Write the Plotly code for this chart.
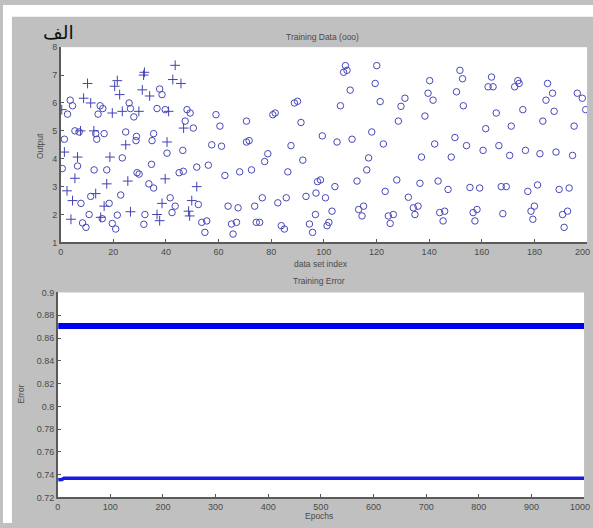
import plotly.graph_objects as go

# ---- Top panel: training data (circles) ----
circle_x = [3.6, 4.5, 2.6, 5.4, 7.0, 1.4, 0.6, 6.4, 12.7, 17.5, 23.4, 29.0, 29.8, 34.5, 40.4, 46.4, 45.0, 46.6,
            15.0, 16.0, 14.2, 13.3, 16.5, 13.7, 26.0, 26.5, 27.8, 24.7, 28.8, 28.6, 35.3, 34.7,
            36.6, 39.7, 37.6, 38.5, 48.0, 47.3, 49.2,
            11.4, 7.7, 22.8, 18.4, 33.5, 35.3, 41.6, 43.5, 42.3,
            10.8, 8.3, 9.6, 21.5, 19.6, 20.9, 32.0, 31.6, 15.8,
            50.4, 59.0, 60.5, 70.6, 80.6, 81.5, 88.8, 90.0, 91.3,
            57.4, 61.1, 70.6, 71.6, 78.7, 77.5, 87.5, 92.0,
            51.7, 56.1, 62.4, 68.0, 72.5, 86.3, 97.6,
            52.3, 63.6, 67.4, 73.7, 76.6, 82.5, 85.7, 93.2, 97.0,
            53.6, 55.5, 54.8, 64.9, 66.8, 65.5, 74.3, 75.6, 83.8, 85.0, 94.5, 95.7, 96.8,
            108.2, 108.8, 107.5, 120.1, 119.5, 110.0, 106.3, 121.4, 130.8, 129.3, 128.3, 138.4, 140.2, 139.6, 141.5,
            99.4, 105.0, 110.7, 118.2, 122.6, 142.1, 117.0, 116.3, 137.1, 148.4,
            98.7, 104.2, 112.6, 123.3, 127.7, 136.5, 143.4, 147.2,
            100.6, 103.1, 113.2, 115.1, 114.5, 124.5, 126.4, 125.2, 132.1, 134.0, 135.8, 134.6, 144.0, 145.9, 145.3,
            101.9, 101.2,
            151.7, 152.7, 150.4, 163.7, 162.4, 164.3, 173.7, 172.5, 174.2, 185.0, 186.9, 184.4, 196.3, 198.2, 199.5,
            153.0, 165.5, 175.6, 187.5, 183.2, 195.1, 161.5, 171.2,
            149.8, 154.2, 160.5, 166.5, 170.6, 176.6, 182.1, 188.2, 194.5,
            155.5, 159.2, 167.4, 169.3, 177.5, 181.2, 189.4, 193.2,
            156.7, 158.2, 157.4, 168.0, 178.7, 180.0, 179.4, 190.7, 192.6, 191.3]
circle_y = [6.1, 5.9, 5.6, 5.0, 4.96, 4.7, 3.65, 3.74, 3.6, 3.6, 4.03, 3.5, 3.45, 3.8, 4.2, 4.3, 3.5, 3.55,
            5.9, 5.8, 5.6, 4.9, 4.9, 4.7, 6.0, 5.8, 5.5, 4.96, 4.8, 4.65, 4.9, 4.65,
            5.8, 5.76, 6.5, 6.3, 5.76, 5.35, 5.64,
            2.65, 2.4, 2.7, 2.4, 3.1, 2.95, 2.6, 2.3, 2.07,
            2.0, 1.7, 1.54, 1.98, 1.68, 1.48, 2.0, 1.65, 1.85,
            5.1, 5.58, 5.17, 5.35, 5.58, 5.64, 6.0, 6.06, 5.3,
            4.5, 4.45, 4.6, 4.65, 4.18, 3.9, 4.47, 3.95,
            3.7, 3.77, 3.4, 3.53, 3.6, 3.53, 3.18,
            2.36, 2.3, 2.24, 2.3, 2.6, 2.42, 2.6, 2.65, 2.77,
            1.72, 1.77, 1.36, 1.66, 1.72, 1.3, 1.72, 1.72, 1.6, 1.48, 1.66, 1.36, 2.0,
            7.34, 7.17, 7.1, 7.34, 6.7, 6.46, 5.9, 6.05, 6.17, 5.88, 5.35, 5.53, 6.8, 6.35, 6.1,
            4.82, 4.6, 4.7, 4.96, 4.53, 4.53, 4.03, 3.6, 4.06, 4.06,
            3.24, 3.0, 3.2, 2.83, 3.24, 3.12, 3.2, 2.9,
            2.6, 2.12, 2.18, 2.3, 1.95, 1.95, 2.0, 1.68, 2.62, 2.24, 2.3, 2.0, 2.07, 2.12, 1.77,
            1.72, 1.6,
            7.17, 6.87, 6.4, 6.93, 6.58, 6.58, 6.8, 6.58, 6.7, 6.7, 6.35, 6.1, 6.35, 6.17, 5.76,
            5.9, 5.64, 5.76, 5.7, 5.35, 5.17, 5.08, 5.17,
            4.76, 4.47, 4.3, 4.47, 4.12, 4.3, 4.18, 4.24, 4.12,
            2.97, 2.95, 3.0, 3.0, 2.83, 3.06, 2.9, 2.95,
            2.07, 2.18, 1.77, 2.03, 2.12, 2.3, 1.83, 2.0, 2.12, 1.54]

# ---- Top panel: plus markers ----
plus_x = [10.2, 21.5, 20.5, 31.8, 31.5, 43.5, 42.6, 45.7,
          8.7, 11.4, 22.4, 31.0, 33.8,
          19.6, 23.4, 29.7, 0.4, 41.0, 46.7, 7.5, 12.6,
          24.7, 40.4, 1.4, 6.4, 18.7,
          5.4, 17.5, 25.5, 39.7, 2.4, 4.5, 13.3, 16.5, 38.5,
          3.9, 15.2, 26.5, 36.6, 37.6,
          51.7, 49.8, 49.0, 48.6]
plus_y = [6.7, 6.8, 6.6, 7.1, 7.0, 7.35, 6.84, 6.7,
          6.17, 6.0, 6.3, 6.47, 6.25,
          5.64, 5.7, 5.7, 5.76, 5.7, 5.1, 5.0, 5.0,
          4.5, 4.6, 4.24, 4.06, 4.06,
          3.3, 3.1, 3.2, 3.28, 2.85, 2.5, 2.75, 2.3, 2.4,
          1.83, 1.9, 2.1, 2.0, 1.78,
          3.0, 2.5, 1.95, 2.12]

# ---- Bottom panel: error curves ----
upper_epochs = [1, 1000]
upper_error = [0.8705, 0.8705]
lower_epochs = [1, 8, 12, 1000]
lower_error = [0.7355, 0.7358, 0.7370, 0.7370]

top_xticks = [0, 20, 40, 60, 80, 100, 120, 140, 160, 180, 200]
top_yticks = [1, 2, 3, 4, 5, 6, 7, 8]
bot_xticks = [0, 100, 200, 300, 400, 500, 600, 700, 800, 900, 1000]
bot_yticks = [0.72, 0.74, 0.76, 0.78, 0.8, 0.82, 0.84, 0.86, 0.88, 0.9]
bot_yticktext = ["0.72", "0.74", "0.76", "0.78", "0.8", "0.82", "0.84", "0.86", "0.88", "0.9"]

W, H = 593, 528
GRAY = "#c0c0c0"
TXT = "#4a4a4a"
AX = "#5a5a5a"
FONT = "Liberation Sans, Arial, sans-serif"

fig = go.Figure()
fig.add_trace(go.Scatter(x=circle_x, y=circle_y, mode="markers", xaxis="x", yaxis="y",
                         marker=dict(symbol="circle-open", size=6.5, color="#4848b8", line=dict(width=1, color="#4848b8")),
                         showlegend=False, hoverinfo="skip"))
fig.add_trace(go.Scatter(x=plus_x, y=plus_y, mode="markers", xaxis="x", yaxis="y",
                         marker=dict(symbol="cross-thin-open", size=7, color="#4040b4", line=dict(width=1, color="#4040b4")),
                         showlegend=False, hoverinfo="skip"))
fig.add_trace(go.Scatter(x=upper_epochs, y=upper_error, mode="lines", xaxis="x2", yaxis="y2",
                         line=dict(color="#0000f0", width=6), showlegend=False, hoverinfo="skip"))
fig.add_trace(go.Scatter(x=lower_epochs, y=lower_error, mode="lines", xaxis="x2", yaxis="y2",
                         line=dict(color="#1a1ae0", width=3.5), showlegend=False, hoverinfo="skip"))

axis_common = dict(showgrid=False, zeroline=False, showline=True, linecolor=AX, linewidth=1.5,
                   ticks="inside", ticklen=4, tickcolor=AX, tickwidth=1,
                   tickfont=dict(family=FONT, size=9, color=TXT), mirror=False)

def px_x(p):
    return p / W

def px_y(p):
    return 1 - p / H

fig.update_layout(
    width=W, height=H,
    margin=dict(l=0, r=0, t=0, b=0),
    paper_bgcolor=GRAY, plot_bgcolor="white",
    xaxis=dict(domain=[px_x(58), px_x(587)], range=[0, 200], tickvals=top_xticks, anchor="y", **axis_common),
    yaxis=dict(domain=[px_y(242), px_y(43)], range=[1, 8], tickvals=top_yticks, anchor="x", **axis_common),
    xaxis2=dict(domain=[px_x(55), px_x(584)], range=[0, 1000], tickvals=bot_xticks, anchor="y2", **axis_common),
    yaxis2=dict(domain=[px_y(502), px_y(293)], range=[0.72, 0.9], tickvals=bot_yticks, ticktext=bot_yticktext,
                anchor="x2", **axis_common),
    shapes=[
        dict(type="rect", xref="paper", yref="paper", x0=0, x1=1, y0=px_y(12), y1=1,
             fillcolor="white", line=dict(width=0), layer="below"),
        dict(type="rect", xref="paper", yref="paper", x0=0, x1=px_x(9), y0=0, y1=1,
             fillcolor="white", line=dict(width=0), layer="below"),
    ],
)

def label(text, x, y, size=8.5, angle=0, family=FONT, color=TXT):
    fig.add_annotation(text=text, x=px_x(x), y=px_y(y), xref="paper", yref="paper",
                       xanchor="center", yanchor="middle", showarrow=False, textangle=angle,
                       font=dict(family=family, size=size, color=color))

label("Training Data (ooo)", 321, 33)
label("data set index", 320, 264)
label("Training Error", 318, 281)
label("Epochs", 318, 521)
label("Output", 37, 144, angle=-90)
label("Error", 18, 396, angle=-90)
label("الف", 56, 28, size=19, family="DejaVu Serif, Liberation Serif, DejaVu Sans, serif", color="#111111")

# last tick labels, kept inside the right edge of the window
fig.add_annotation(text=str(top_xticks[-1]), x=px_x(592), xref="paper", y=px_y(251.5), yref="paper",
                   xanchor="right", yanchor="middle", showarrow=False,
                   font=dict(family=FONT, size=9, color=TXT))
fig.add_annotation(text=str(bot_xticks[-1]), x=px_x(592), xref="paper", y=px_y(511.5), yref="paper",
                   xanchor="right", yanchor="middle", showarrow=False,
                   font=dict(family=FONT, size=9, color=TXT))

fig.write_html("out.html", config={"displayModeBar": False})
